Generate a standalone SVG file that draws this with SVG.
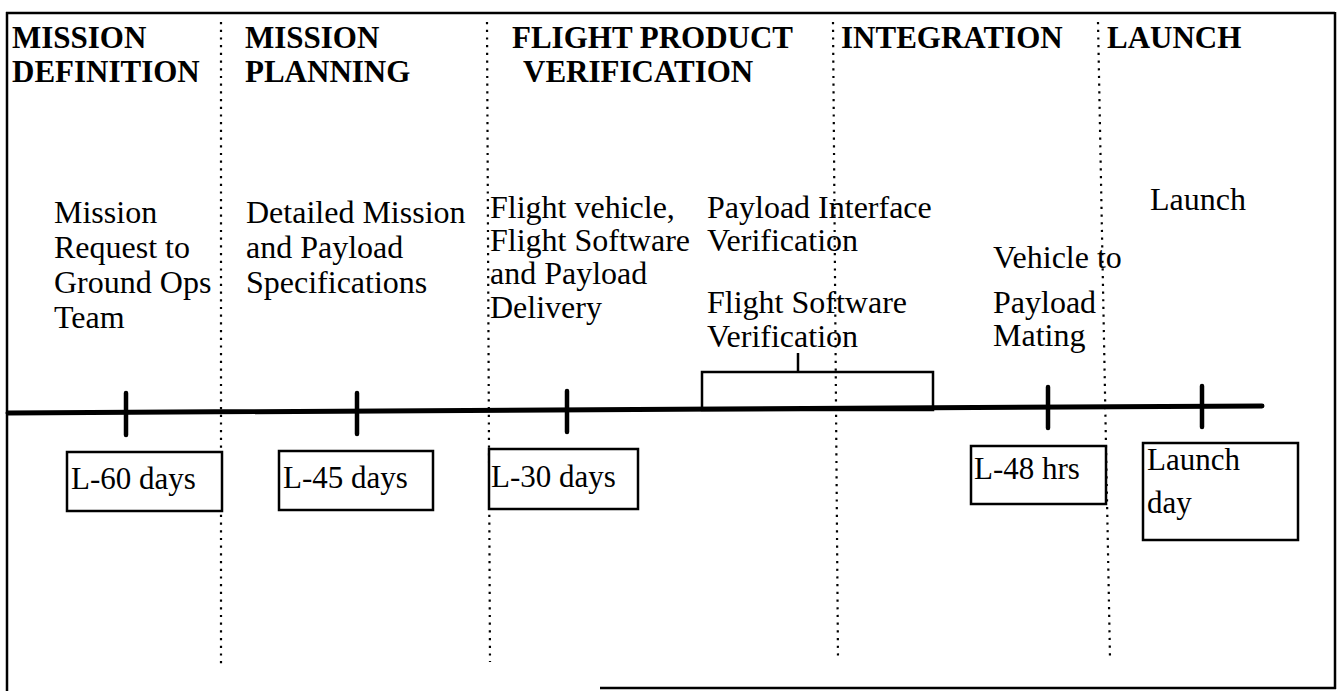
<svg xmlns="http://www.w3.org/2000/svg" width="1343" height="692" viewBox="0 0 1343 692">
<style>
text{font-family:"Liberation Serif","Times New Roman",serif;fill:#000}
.h{font-size:31px;font-weight:bold}
.b{font-size:32px}
.l{font-size:31px}
.frame{fill:none;stroke:#000;stroke-width:2.5}
.dot{fill:none;stroke:#000;stroke-width:2.2;stroke-dasharray:2.2 5.5}
.tl{fill:none;stroke:#000;stroke-width:5;stroke-linecap:round}
.tick{fill:none;stroke:#000;stroke-width:4.5;stroke-linecap:round}
.box{fill:#fff;stroke:#000;stroke-width:2.5}
.thin{fill:none;stroke:#000;stroke-width:2.5}
</style>
<rect width="1343" height="692" fill="#fff"/>
<g id="frame">
<line class="frame" x1="6" y1="13" x2="1335" y2="13"/>
<line class="frame" x1="7" y1="12" x2="7" y2="691"/>
<line class="frame" x1="1335" y1="12" x2="1335" y2="689"/>
<line class="frame" x1="600" y1="688" x2="1336" y2="688"/>
</g>
<g id="connectors">
<line class="dot" x1="221" y1="22" x2="221" y2="664"/>
<line class="dot" x1="487" y1="22" x2="490" y2="662"/>
<line class="dot" x1="833" y1="22" x2="838" y2="660"/>
<line class="dot" x1="1098" y1="22" x2="1110" y2="658"/>
<line class="tl" x1="8" y1="413" x2="1262" y2="406"/>
<line class="tick" x1="126" y1="393" x2="126" y2="435"/>
<line class="tick" x1="357" y1="393" x2="357" y2="434"/>
<line class="tick" x1="567" y1="391" x2="567" y2="432"/>
<line class="tick" x1="1048" y1="387" x2="1048" y2="428"/>
<line class="tick" x1="1202" y1="386" x2="1202" y2="427"/>
<rect class="thin" x="702" y="372" width="231" height="38"/>
<line class="thin" x1="798" y1="353" x2="798" y2="372"/>
</g>
<g id="phase-mission-definition">
<text class="h" x="12" y="48">MISSION</text>
<text class="h" x="12" y="82">DEFINITION</text>
</g>
<g id="phase-mission-planning">
<text class="h" x="245" y="48">MISSION</text>
<text class="h" x="245" y="82">PLANNING</text>
</g>
<g id="phase-flight-product-verification">
<text class="h" x="512" y="48">FLIGHT PRODUCT</text>
<text class="h" x="523" y="82">VERIFICATION</text>
</g>
<g id="phase-integration">
<text class="h" x="841" y="48">INTEGRATION</text>
</g>
<g id="phase-launch">
<text class="h" x="1107" y="48">LAUNCH</text>
</g>
<g id="event-mission-request">
<text class="b" x="54" y="223">Mission</text>
<text class="b" x="54" y="258">Request to</text>
<text class="b" x="54" y="293">Ground Ops</text>
<text class="b" x="54" y="328">Team</text>
</g>
<g id="event-detailed-specs">
<text class="b" x="246" y="223">Detailed Mission</text>
<text class="b" x="246" y="258">and Payload</text>
<text class="b" x="246" y="293">Specifications</text>
</g>
<g id="event-delivery">
<text class="b" x="490" y="218">Flight vehicle,</text>
<text class="b" x="490" y="251">Flight Software</text>
<text class="b" x="490" y="284">and Payload</text>
<text class="b" x="490" y="318">Delivery</text>
</g>
<g id="event-interface-verification">
<text class="b" x="707" y="218">Payload Interface</text>
<text class="b" x="707" y="251">Verification</text>
<text class="b" x="707" y="313">Flight Software</text>
<text class="b" x="707" y="347">Verification</text>
</g>
<g id="event-mating">
<text class="b" x="993" y="268">Vehicle to</text>
<text class="b" x="993" y="313">Payload</text>
<text class="b" x="993" y="346">Mating</text>
</g>
<g id="event-launch">
<text class="b" x="1150" y="210">Launch</text>
</g>
<g id="m-l60">
<rect class="box" x="67" y="452" width="155" height="59"/>
<text class="l" x="71" y="489">L-60 days</text>
</g>
<g id="m-l45">
<rect class="box" x="279" y="451" width="154" height="59"/>
<text class="l" x="283" y="488">L-45 days</text>
</g>
<g id="m-l30">
<rect class="box" x="489" y="449" width="149" height="60"/>
<text class="l" x="491" y="487">L-30 days</text>
</g>
<g id="m-l48">
<rect class="box" x="971" y="446" width="135" height="58"/>
<text class="l" x="974" y="479">L-48 hrs</text>
</g>
<g id="m-launch-day">
<rect class="box" x="1143" y="443" width="155" height="97"/>
<text class="l" x="1147" y="470">Launch</text>
<text class="l" x="1147" y="513">day</text>
</g>
</svg>
